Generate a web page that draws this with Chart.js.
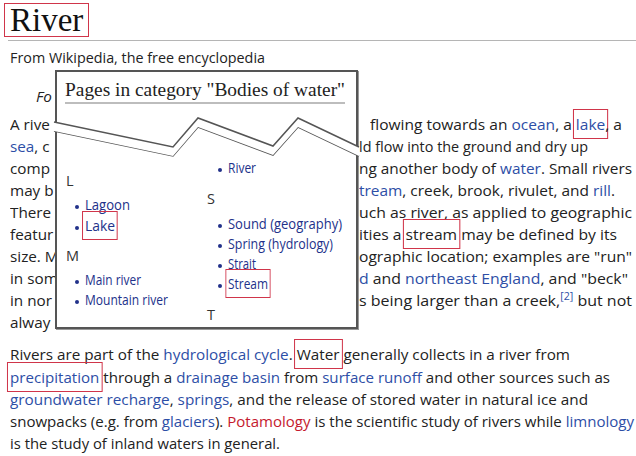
<!DOCTYPE html>
<html>
<head>
<meta charset="utf-8">
<script src="https://cdn.jsdelivr.net/npm/chart.js@4"></script>
<style>
  html, body { margin: 0; padding: 0; background: #fff; }
  body { width: 636px; height: 456px; position: relative; overflow: hidden;
         font-family: "Open Sans", "DejaVu Sans", sans-serif; color: #222; }
  .ln { position: absolute; white-space: nowrap; font-size: 15px; line-height: 20px;
        transform-origin: 0 50%; }
  .ln a { color: #2d4ea6; text-decoration: none; }
  .ln .red { color: #c51a2e; }
  .box { border: 1px solid #d0354a; padding: 4px 2px; margin: 0 -3px; }
  sup { font-size: 10px; line-height: 0; }
  #title { position: absolute; left: 10px; top: 0px; font-family: "Liberation Serif", serif;
           font-size: 33px; line-height: 40px; color: #111; }
  #titlebox { position: absolute; left: 4px; top: 3px; width: 83px; height: 32px; border: 1px solid #d0354a; }
  #rule { position: absolute; left: 8px; top: 40px; width: 628px; height: 1px; background: #b5b5b5; }
  #popup { position: absolute; left: 55px; top: 70px; width: 299px; height: 255px;
           border: 2px solid #555; background: #fff; z-index: 2;
           box-shadow: 1px 1px 0 #999; }
  .pp { position: absolute; white-space: nowrap; font-size: 14px; line-height: 18px;
        color: #22318a; z-index: 3; transform-origin: 0 50%; }
  .pp.hd { color: #333; font-size: 14.5px; }
  .dot { position: absolute; width: 4px; height: 4px; border-radius: 2px; background: #22318a; z-index: 3; }
  #ptitle { position: absolute; left: 65px; top: 78px; font-family: "Liberation Serif", serif;
            font-size: 19px; line-height: 24px; color: #222; white-space: nowrap; z-index: 3;
            transform-origin: 0 50%; }
  #pline { position: absolute; left: 65px; top: 102px; width: 280px; height: 2px; background: #bdbdbd; z-index: 3; }
  #tear { position: absolute; left: 50px; top: 60px; z-index: 4; }
</style>
</head>
<body>
<div id="title">River</div>
<div id="titlebox"></div>
<div id="rule"></div>
<div id="popup"></div>
<div id="ptitle">Pages in category "Bodies of water"</div>
<div id="pline"></div>
<canvas id="tear" width="315" height="110"></canvas>

<script>
// torn edge of the popup, drawn as two lines (page pixel coordinates)
const tearX = [54, 173, 198, 273, 298, 359];
const tearTop = [122, 147, 118, 146, 118, 147];
const tearBottom = [131, 156, 127, 155, 127, 156];

// body text lines: [left x, centre y, right x, html]
const bodyLines = [
  [10, 58, 265, 'From Wikipedia, the free encyclopedia'],
  [370, 125, 622, 'flowing towards an <a>ocean</a>, a <a class="box">lake</a>, a'],
  [359, 147, 588, 'ld flow into the ground and dry up'],
  [359, 169, 632, 'ng another body of <a>water</a>. Small rivers'],
  [359, 191, 615, '<a>tream</a>, creek, brook, rivulet, and <a>rill</a>.'],
  [359, 213, 632, 'uch as river, as applied to geographic'],
  [359, 235, 617, 'ities a <span class="box">stream</span> may be defined by its'],
  [359, 257, 632, 'ographic location; examples are "run"'],
  [359, 279, 628, '<a>d</a> and <a>northeast England</a>, and "beck"'],
  [359, 301, 632, 's being larger than a creek,<sup><a>[2]</a></sup> but not'],
  [10, 355, 570, 'Rivers are part of the <a>hydrological cycle</a>. <span class="box">Water</span> generally collects in a river from'],
  [10, 378, 610, '<a class="box">precipitation</a> through a <a>drainage basin</a> from <a>surface runoff</a> and other sources such as'],
  [10, 400, 588, '<a>groundwater recharge</a>, <a>springs</a>, and the release of stored water in natural ice and'],
  [10, 422, 634, 'snowpacks (e.g. from <a>glaciers</a>). <span class="red">Potamology</span> is the scientific study of rivers while <a>limnology</a>'],
  [10, 444, 280, 'is the study of inland waters in general.']
];

// visible starts of the text hidden behind the popup: [left x, centre y, html]
const leftBits = [
  [36, 97, '<i>Fo</i>'],
  [10, 125, 'A rive'],
  [10, 147, '<a>sea</a>, c'],
  [10, 169, 'comp'],
  [10, 191, 'may b'],
  [10, 213, 'There'],
  [10, 235, 'featur'],
  [10, 257, 'size. M'],
  [10, 279, 'in som'],
  [10, 301, 'in nor'],
  [10, 323, 'alway']
];

// popup category list: [left x, centre y, right x, label, bullet]
const popupItems = [
  [66, 182, null, 'L', false],
  [85, 206, 130, 'Lagoon', true],
  [85, 227, 115, '<span class="box">Lake</span>', true],
  [66, 257, null, 'M', false],
  [85, 281, 141, 'Main river', true],
  [85, 301, 168, 'Mountain river', true],
  [228, 169, 256, 'River', true],
  [207, 200, null, 'S', false],
  [228, 225, 342, 'Sound (geography)', true],
  [228, 245, 333, 'Spring (hydrology)', true],
  [228, 265, 256, 'Strait', true],
  [228, 285, 268, '<span class="box">Stream</span>', true],
  [207, 316, null, 'T', false]
];

const fitList = [];
const followers = [];

function addLine(x, y, html) {
  const el = document.createElement('div');
  el.className = 'ln';
  el.style.left = x + 'px';
  el.style.top = (y - 11) + 'px';
  el.innerHTML = html;
  document.body.appendChild(el);
  return el;
}

bodyLines.forEach(([x, y, r, html]) => fitList.push([addLine(x, y, html), r - x]));
leftBits.forEach(([x, y, html]) => followers.push(addLine(x, y, html)));

popupItems.forEach(([x, y, r, html, bullet]) => {
  const el = document.createElement('div');
  el.className = bullet ? 'pp' : 'pp hd';
  el.style.left = x + 'px';
  el.style.top = (y - 10) + 'px';
  el.innerHTML = html;
  document.body.appendChild(el);
  if (r) fitList.push([el, r - x]);
  if (bullet) {
    const d = document.createElement('div');
    d.className = 'dot';
    d.style.left = (x - 10) + 'px';
    d.style.top = (y - 1) + 'px';
    document.body.appendChild(d);
  }
});
fitList.push([document.getElementById('ptitle'), 280]);

function fitAll() {
  let ref = 1;
  fitList.forEach(([el, w], i) => {
    el.style.transform = '';
    const cur = el.getBoundingClientRect().width;
    if (cur > 0) {
      el.style.transform = 'scaleX(' + (w / cur) + ')';
      if (i === 10) ref = w / cur; // "Rivers are part..." line sets the scale
    }
  });
  followers.forEach(el => { el.style.transform = 'scaleX(' + ref + ')'; });
}
fitAll();
if (document.fonts) document.fonts.ready.then(fitAll);

const toPts = ys => tearX.map((x, i) => ({ x: x, y: ys[i] }));

const ctx = document.getElementById('tear').getContext('2d');
new Chart(ctx, {
  type: 'line',
  data: {
    datasets: [
      { data: toPts(tearTop), borderColor: '#555', borderWidth: 1.5, pointRadius: 0,
        fill: '+1', backgroundColor: '#fff', tension: 0 },
      { data: toPts(tearBottom), borderColor: '#555', borderWidth: 1.5, pointRadius: 0,
        fill: false, tension: 0 }
    ]
  },
  options: {
    responsive: false,
    animation: false,
    devicePixelRatio: 1,
    layout: { padding: 0 },
    plugins: { legend: { display: false }, tooltip: { enabled: false } },
    scales: {
      x: { type: 'linear', min: 50, max: 365, display: false },
      y: { type: 'linear', min: 60, max: 170, reverse: true, display: false }
    }
  }
});
</script>
</body>
</html>
